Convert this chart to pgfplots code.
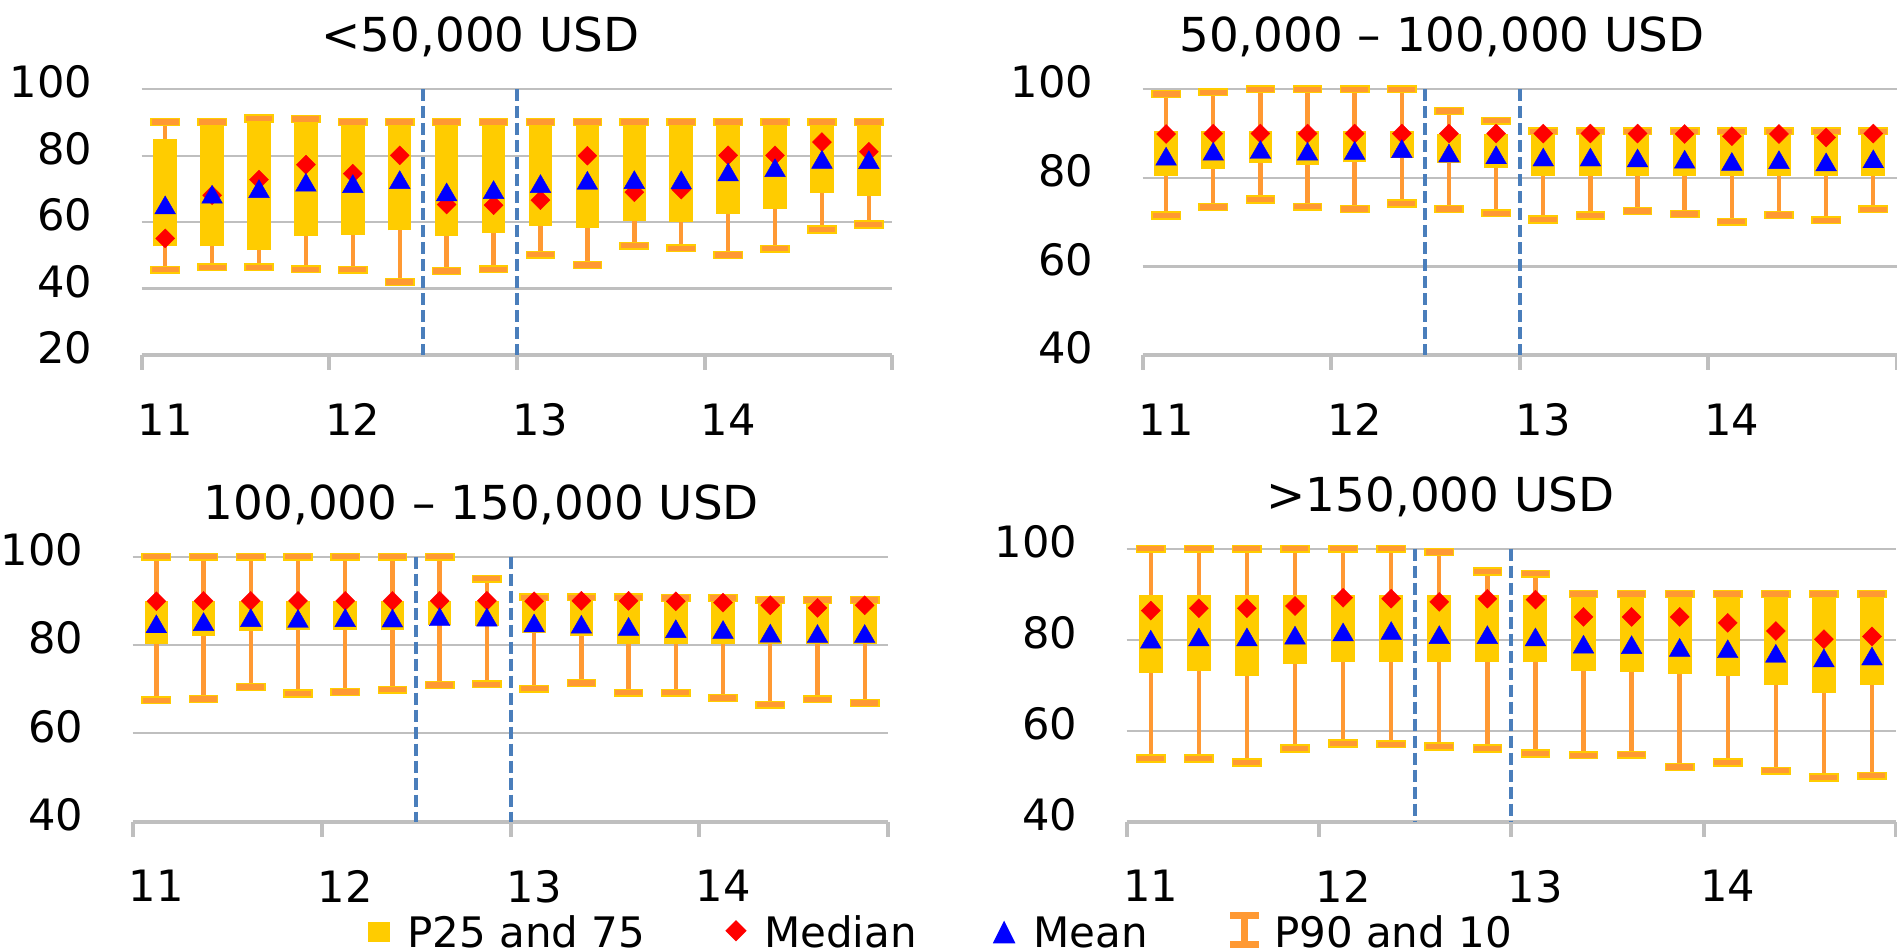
\documentclass[border=0pt]{standalone}
\usepackage{pgfplots}
\pgfplotsset{compat=1.18}
\usepackage{pgfplotstable}
\usepackage{fontspec}
\setmainfont{DejaVu Sans}

\definecolor{boxyellow}{HTML}{FFCC00}
\definecolor{whisk}{HTML}{FF9933}
\definecolor{medred}{HTML}{FF0000}
\definecolor{meanblue}{HTML}{0000FF}
\definecolor{gridgray}{HTML}{BFBFBF}
\definecolor{sepblue}{HTML}{4A7EBB}

% x = slot centre; p10/p25/med/p75/p90 percentiles; mean
\pgfplotstableread{
x    p10  p25  med  p75  p90  mean
0.5  45.7 52.7 55.1 85.0 90.1 65.2
1.5  46.4 52.7 68.1 90.0 90.1 68.4
2.5  46.4 51.6 72.8 90.2 91.2 70.1
3.5  45.8 55.8 77.3 90.2 91.0 72.0
4.5  45.7 56.2 74.6 90.0 90.1 71.6
5.5  42.0 57.5 80.1 90.0 90.1 72.8
6.5  45.3 55.8 65.3 90.0 90.1 69.1
7.5  45.8 56.7 65.1 90.0 90.1 69.8
8.5  50.2 58.8 66.6 90.0 90.1 71.6
9.5  47.1 58.3 80.0 90.0 90.1 72.6
10.5 52.9 60.4 69.0 90.0 90.1 72.8
11.5 52.1 59.9 69.8 90.0 90.1 72.7
12.5 50.1 62.5 80.1 90.0 90.1 75.1
13.5 52.0 63.9 80.1 90.0 90.1 76.4
14.5 57.8 68.7 84.1 90.0 90.1 78.9
15.5 59.3 68.0 81.2 90.0 90.1 78.8
}\incA

\pgfplotstableread{
x    p10  p25  med  p75  p90  mean
0.5  71.5 80.4 89.9 90.5 98.9 84.9
1.5  73.4 81.9 90.0 90.5 99.3 86.0
2.5  75.1 83.4 90.0 90.5 100  86.4
3.5  73.5 83.0 90.0 90.5 100  86.0
4.5  73.0 83.5 90.0 90.5 100  86.2
5.5  74.2 84.4 90.0 90.5 100  86.6
6.5  73.0 83.4 90.0 90.0 95.1 85.6
7.5  72.0 82.2 90.0 90.0 92.9 85.2
8.5  70.6 80.4 90.0 90.5 90.5 84.7
9.5  71.5 80.4 90.0 90.5 90.5 84.7
10.5 72.5 80.4 90.0 90.5 90.5 84.5
11.5 71.8 80.4 89.9 90.5 90.5 84.2
12.5 70.1 80.4 89.4 90.5 90.5 83.7
13.5 71.6 80.4 89.9 90.5 90.5 84.1
14.5 70.4 80.4 89.1 90.5 90.5 83.6
15.5 72.9 80.4 90.0 90.5 90.5 84.3
}\incB

\pgfplotstableread{
x    p10  p25  med  p75  p90  mean
0.5  67.5 80.3 89.9 90.0 100  84.8
1.5  67.8 82.1 90.0 90.0 100  85.3
2.5  70.5 83.2 90.0 90.0 100  86.2
3.5  69.0 83.5 90.0 90.0 100  86.0
4.5  69.4 83.5 90.0 90.0 100  86.2
5.5  69.9 83.3 90.0 90.0 100  86.1
6.5  70.9 84.6 90.0 90.0 100  86.4
7.5  71.1 84.2 90.0 90.0 95.0 86.3
8.5  70.1 82.7 89.9 90.8 90.8 85.0
9.5  71.4 82.0 90.0 90.8 90.8 84.7
10.5 69.2 80.3 90.0 90.8 90.8 84.2
11.5 69.2 80.3 89.9 90.6 90.6 83.7
12.5 68.0 80.3 89.6 90.6 90.6 83.5
13.5 66.5 80.3 89.0 90.2 90.2 82.7
14.5 67.7 80.3 88.4 90.2 90.2 82.6
15.5 66.9 80.3 89.0 90.2 90.2 82.6
}\incC

\pgfplotstableread{
x    p10  p25  med  p75  p90  mean
0.5  53.9 72.7 86.4 89.9 100  80.1
1.5  53.9 73.1 86.9 89.9 100  80.6
2.5  53.0 72.1 86.9 89.9 100  80.6
3.5  56.1 74.6 87.4 89.9 100  81.0
4.5  57.2 75.0 89.2 89.9 100  81.7
5.5  57.0 75.0 89.0 89.9 100  82.0
6.5  56.5 75.0 88.3 89.9 99.3 81.1
7.5  56.1 75.0 89.0 89.9 95.0 81.1
8.5  55.0 75.0 88.8 89.9 94.5 80.6
9.5  54.6 73.1 85.0 90.0 90.0 79.0
10.5 54.7 73.0 85.0 90.0 90.0 78.9
11.5 52.0 72.4 85.0 90.0 90.0 78.3
12.5 53.0 72.0 83.7 90.0 90.0 78.0
13.5 51.2 70.0 81.9 90.0 90.0 77.0
14.5 49.7 68.3 80.1 90.0 90.0 76.0
15.5 50.1 70.0 80.7 90.0 90.0 76.4
}\incD

\pgfplotsset{
  every axis title/.style={at={(0.5,1)}, anchor=base, inner sep=0pt,
    font=\fontsize{11.7}{14}\selectfont},
  panel/.style={
    scale only axis, clip=false,
    xmin=0, xmax=16, ymax=100,
    axis x line*=bottom, axis y line*=left,
    y axis line style={draw=none},
    x axis line style={draw=gridgray, line width=1pt, -},
    xtick={0,4,8,12,16}, xticklabels={11,12,13,14,{}},
    xtick align=outside, ytick align=inside,
    major tick length=3.75pt,
    xtick style={draw=gridgray, line width=1pt},
    ytick style={draw=none},
    ymajorgrids, grid style={draw=gridgray, line width=0.55pt},
    tick label style={font=\fontsize{10.8}{13}\selectfont},
    /pgf/number format/assume math mode=true,
    yticklabel style={anchor=east, inner sep=0pt, xshift=-12.15pt, yshift=1.75pt},
    xticklabel style={anchor=north, inner sep=0pt, xshift=#1, yshift=-8.25pt},
  },
}

% whiskers, boxes, separators, caps, medians and means
\newcommand\panelplots[3]{%
  \addplot[draw=none, mark=none, forget plot,
    error bars/.cd, y dir=plus, y explicit, error mark=none,
    error bar style={draw=whisk, line width=1.1pt}]
    table[x=x, y=p10, y error expr=\thisrow{p90}-\thisrow{p10}] {#1};
  \addplot[draw=none, mark=none, forget plot,
    error bars/.cd, y dir=plus, y explicit, error mark=none,
    error bar style={draw=boxyellow, line width=#2}]
    table[x=x, y=p25, y error expr=\thisrow{p75}-\thisrow{p25}] {#1};
  \addplot[sepblue, line width=1pt, dash pattern=on 3pt off 1.25pt, forget plot]
    coordinates {(6,100) (6,#3)};
  \addplot[sepblue, line width=1pt, dash pattern=on 3pt off 1.25pt, forget plot]
    coordinates {(8,100) (8,#3)};
  \addplot[whisk, only marks, mark=square*, mark size=0.85pt, forget plot,
    mark options={xscale=4.16, fill=whisk, draw=boxyellow, line width=0.35pt}]
    table[x=x, y=p10] {#1};
  \addplot[whisk, only marks, mark=square*, mark size=0.85pt, forget plot,
    mark options={xscale=4.16, fill=whisk, draw=boxyellow, line width=0.35pt}]
    table[x=x, y=p90] {#1};
  \addplot[medred, only marks, mark=square*, mark size=1.68pt, forget plot,
    mark options={rotate=45, fill=medred, draw=medred, line width=0.1pt}]
    table[x=x, y=med] {#1};
  \addplot[meanblue, only marks, mark=triangle*, mark size=2.99pt, forget plot,
    mark options={fill=meanblue, draw=meanblue, line width=0.1pt, yshift=-0.75pt}]
    table[x=x, y=mean] {#1};
}

\begin{document}
\begin{tikzpicture}

% <50,000 USD
\begin{axis}[panel=5.86pt,
  at={(35.43pt,149.25pt)}, anchor=south west,
  width=187.65pt, height=66.43pt,
  ymin=20, ytick={20,40,60,80,100},
  title={<50,000 USD}, title style={at={(0.4514,1.1404)}}]
  \panelplots{\incA}{5.86pt}{20}
\end{axis}

% 50,000 - 100,000 USD
\begin{axis}[panel=5.89pt,
  at={(285.63pt,149.25pt)}, anchor=south west,
  width=188.58pt, height=66.43pt,
  ymin=40, ytick={40,60,80,100},
  title={50,000 -- 100,000 USD}, title style={at={(0.3971,1.1404)}}]
  \panelplots{\incB}{5.89pt}{40}
\end{axis}

% 100,000 - 150,000 USD, carries the legend
\begin{axis}[panel=5.90pt,
  at={(33.18pt,32.58pt)}, anchor=south west,
  width=188.9pt, height=66.25pt,
  ymin=40, ytick={40,60,80,100},
  title={100,000 -- 150,000 USD}, title style={at={(0.4616,1.1385)}},
  legend columns=4,
  legend style={at={(0.3114,-0.3396)}, anchor=north west,
    draw=none, fill=none, inner sep=0pt, outer sep=0pt,
    font=\fontsize{10.5}{12.6}\selectfont,
    cells={anchor=base west},
    nodes={inner sep=0pt, text depth=0pt},
    /tikz/column sep=0pt,
    /tikz/column 1/.style={column sep=4.48pt},
    /tikz/column 2/.style={column sep=20.05pt},
    /tikz/column 3/.style={column sep=4.48pt},
    /tikz/column 4/.style={column sep=19.1pt},
    /tikz/column 5/.style={column sep=4.65pt},
    /tikz/column 6/.style={column sep=20.5pt},
    /tikz/column 7/.style={column sep=3.9pt}}]
  \panelplots{\incC}{5.90pt}{40}
  \addlegendimage{legend image code/.code={
    \fill[boxyellow] (0pt,1.675pt) rectangle (5pt,6.175pt);}}
  \addlegendentry{P25 and 75}
  \addlegendimage{legend image code/.code={
    \fill[medred] (2.375pt,1.8pt) -- (4.75pt,4.175pt) -- (2.375pt,6.55pt) -- (0pt,4.175pt) -- cycle;}}
  \addlegendentry{Median}
  \addlegendimage{legend image code/.code={
    \fill[meanblue] (0pt,1.25pt) -- (5pt,1.25pt) -- (2.5pt,6.25pt) -- cycle;}}
  \addlegendentry{Mean}
  \addlegendimage{legend image code/.code={
    \fill[whisk] (0pt,0pt) rectangle (6.75pt,1.5pt);
    \fill[whisk] (0pt,7.25pt) rectangle (6.75pt,8.75pt);
    \fill[whisk] (2.7pt,1.5pt) rectangle (4.05pt,7.25pt);}}
  \addlegendentry{P90 and 10}
\end{axis}

% >150,000 USD
\begin{axis}[panel=6.01pt,
  at={(281.68pt,32.58pt)}, anchor=south west,
  width=192.33pt, height=68.25pt,
  ymin=40, ytick={40,60,80,100},
  title={>150,000 USD}, title style={at={(0.4079,1.1355)}}]
  \panelplots{\incD}{6.01pt}{40}
\end{axis}

\pgfresetboundingbox
\path[use as bounding box] (0pt,0pt) rectangle (474.25pt,238pt);
\end{tikzpicture}
\end{document}
